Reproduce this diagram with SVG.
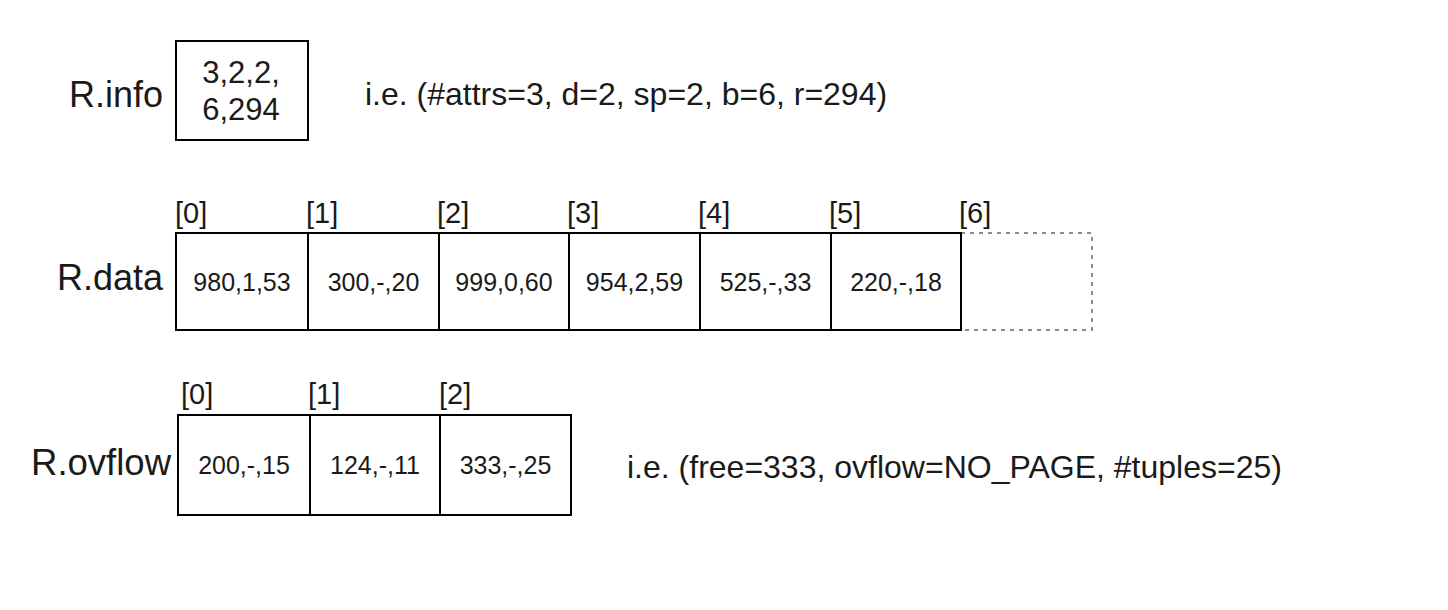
<svg xmlns="http://www.w3.org/2000/svg" width="1448" height="610" viewBox="0 0 1448 610">
<style>
text{font-family:"Liberation Sans",Arial,Helvetica,sans-serif;fill:#1a1a1a}
.lbl{font-size:36px;text-anchor:end}
.idx{font-size:29px}
.cell{font-size:25px;text-anchor:middle}
.note{font-size:32px}
.box{fill:#fff;stroke:#000;stroke-width:2}
.div{stroke:#000;stroke-width:2}
.dash{fill:none;stroke:#666;stroke-width:1.5;stroke-dasharray:4 5}
</style>
<rect width="1448" height="610" fill="#fff"/>
<g id="info">
<text class="lbl" x="163" y="107">R.info</text>
<rect class="box" x="176" y="41" width="132" height="99"/>
<text class="cell" x="241" y="83" style="font-size:31px">3,2,2,</text>
<text class="cell" x="241" y="120" style="font-size:31px">6,294</text>
<text class="note" x="365" y="105">i.e. (#attrs=3, d=2, sp=2, b=6, r=294)</text>
</g>
<g id="data">
<text class="lbl" x="163" y="290">R.data</text>
<rect class="dash" x="961" y="233" width="131" height="97"/>
<rect class="box" x="176" y="233" width="785" height="97"/>
<line class="div" x1="308" y1="233" x2="308" y2="330"/>
<line class="div" x1="439" y1="233" x2="439" y2="330"/>
<line class="div" x1="569" y1="233" x2="569" y2="330"/>
<line class="div" x1="700" y1="233" x2="700" y2="330"/>
<line class="div" x1="831" y1="233" x2="831" y2="330"/>
<text class="idx" x="175" y="223">[0]</text>
<text class="idx" x="306" y="223">[1]</text>
<text class="idx" x="437" y="223">[2]</text>
<text class="idx" x="567" y="223">[3]</text>
<text class="idx" x="698" y="223">[4]</text>
<text class="idx" x="829" y="223">[5]</text>
<text class="idx" x="959" y="223">[6]</text>
<text class="cell" x="242" y="291">980,1,53</text>
<text class="cell" x="373.5" y="291">300,-,20</text>
<text class="cell" x="504" y="291">999,0,60</text>
<text class="cell" x="634.5" y="291">954,2,59</text>
<text class="cell" x="765.5" y="291">525,-,33</text>
<text class="cell" x="896" y="291">220,-,18</text>
</g>
<g id="ovflow">
<text class="lbl" x="171" y="475" style="font-size:36.5px">R.ovflow</text>
<rect class="box" x="178" y="415" width="393" height="100"/>
<line class="div" x1="310" y1="415" x2="310" y2="515"/>
<line class="div" x1="440" y1="415" x2="440" y2="515"/>
<text class="idx" x="181" y="404">[0]</text>
<text class="idx" x="308" y="404">[1]</text>
<text class="idx" x="439" y="404">[2]</text>
<text class="cell" x="244" y="474">200,-,15</text>
<text class="cell" x="375" y="474">124,-,11</text>
<text class="cell" x="505.5" y="474">333,-,25</text>
<text class="note" x="627" y="478">i.e. (free=333, ovflow=NO_PAGE, #tuples=25)</text>
</g>
<g id="connectors"/>
</svg>
